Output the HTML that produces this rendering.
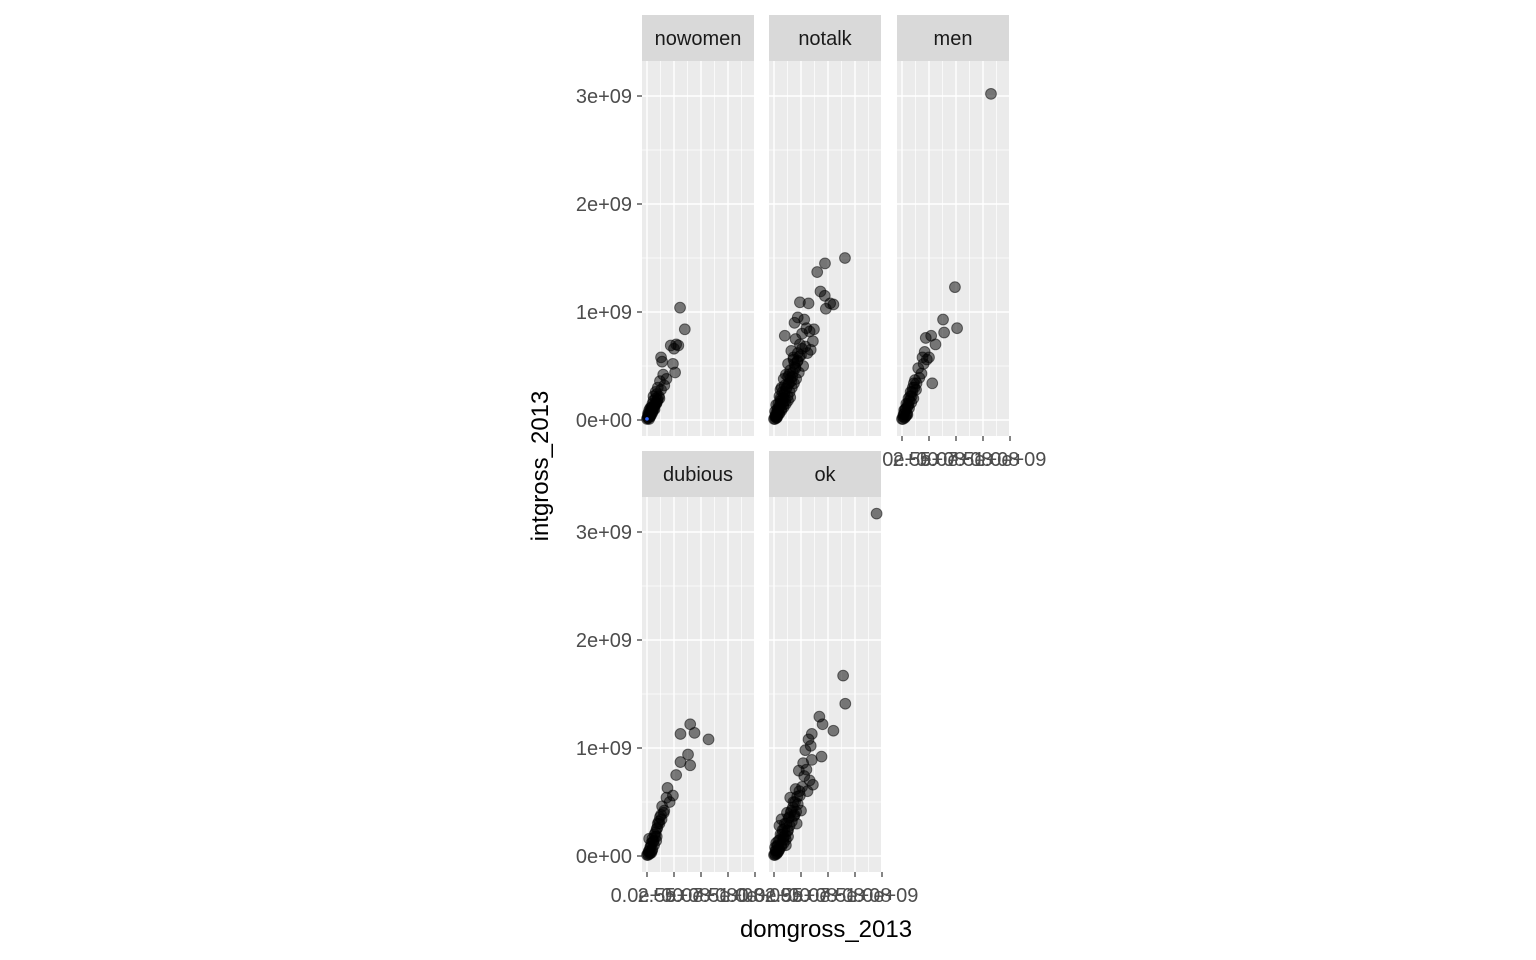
<!DOCTYPE html>
<html><head><meta charset="utf-8"><style>
html,body{margin:0;padding:0;background:#fff;}
svg{display:block;font-family:"Liberation Sans",sans-serif;}
</style></head><body>
<svg id="chart" width="1536" height="960" xmlns="http://www.w3.org/2000/svg">
<text x="826" y="937" font-size="24" text-anchor="middle" fill="#000">domgross_2013</text>
<text transform="translate(548,466) rotate(-90)" font-size="24" text-anchor="middle" fill="#000">intgross_2013</text>
</svg>
<script>
// values in units of 1e8
const xTicks=[0,2.5,5,7.5,10];
const xTickLabels=["0.0e+00","2.5e+08","5.0e+08","7.5e+08","1.0e+09"];
const yTicks=[0,10,20,30];
const yTickLabels=["0e+00","1e+09","2e+09","3e+09"];
const panelNames=["nowomen","notalk","men","dubious","ok"];
const nowomenX=[3.06,3.5,2.7,2.2,2.5,2.9,1.3,1.4,2.6,1.5,2.4,1.8,1.2,1.0,0.8,1.1,0.6,0.9,0.4,0.6,0.3,0.2,0.1,0.4,0.7,1.3,0.5,0.2,0.8,1.6,0.3,0.5,0.1,0.2,0.0,0.3,0.6,0.9,1.0,0.4,0.15,0.35,0.55,0.75,0.95,0.25,0.45,0.65,0.85,1.15,0.05,0.1,0.3,0.5,0.7];
const nowomenY=[10.4,8.4,7.0,6.9,6.6,6.9,5.8,5.4,4.4,4.2,5.2,3.8,3.6,3.0,2.6,2.2,1.8,1.6,1.2,1.0,0.8,0.4,0.2,0.5,1.3,2.8,1.5,0.9,2.0,3.2,0.3,0.7,0.6,0.1,0.1,1.1,2.2,2.4,1.9,0.9,0.5,0.6,1.0,1.5,1.8,0.3,1.1,1.3,1.5,2.0,0.2,0.4,0.5,0.8,1.0];
const notalkX=[6.57,4.72,4.0,4.3,4.7,5.2,5.5,4.8,2.4,3.2,2.2,2.8,1.9,3.0,2.6,3.7,3.3,1.0,3.6,2.0,2.4,2.9,3.1,1.6,1.8,2.2,2.5,1.3,1.5,1.1,0.9,2.0,1.7,1.4,0.7,0.8,1.2,0.5,0.6,0.4,0.3,0.2,0.1,0.0,0.5,0.9,1.0,0.3,0.2,1.6,2.7,2.3,1.9,0.6,0.4,1.3,0.8,0.1,0.2,3.4,0.15,0.35,0.55,0.75,0.95,1.15,1.35,1.55,1.75,1.95,2.15,2.35,0.25,0.45,0.65,0.85,1.05,1.25,1.45,1.65,1.85,2.05,0.1,0.3,0.5,0.7,0.9,1.1,1.3,1.5,0.6,1.0,1.4,1.8,2.2,2.6];
const notalkY=[15.0,14.5,13.7,11.9,11.5,10.8,10.7,10.3,10.9,10.8,9.5,9.3,9.0,8.5,8.0,8.4,8.2,7.8,7.3,7.5,7.0,6.8,6.2,6.4,5.8,5.5,6.0,5.2,4.6,4.2,3.8,4.8,4.0,3.4,3.0,2.6,3.1,2.2,1.8,1.5,1.0,0.6,0.3,0.1,1.2,2.0,2.6,0.5,1.4,3.6,5.0,4.4,5.2,2.8,0.8,4.0,1.6,0.8,0.2,6.5,0.4,0.9,1.4,1.9,2.4,2.9,3.4,3.9,4.4,4.9,5.4,5.9,0.2,0.6,1.0,1.4,1.8,2.2,2.6,3.0,3.4,3.8,0.1,0.3,0.6,0.9,1.2,1.5,1.8,2.1,2.0,3.2,4.2,5.6,6.2,6.6];
const menX=[8.24,4.9,5.1,3.8,3.9,2.7,2.2,3.1,2.1,1.9,2.5,2.8,1.8,1.2,1.5,1.0,0.8,0.6,0.4,0.3,0.2,0.1,0.0,0.9,1.3,0.5,0.7,1.1,0.2,0.4,1.6,0.6,0.15,0.35,0.55,0.75,0.95,1.15,1.35,0.25,0.45,0.65,0.85,1.05,0.1,0.3,0.5,2.0,2.3];
const menY=[30.2,12.3,8.5,9.3,8.1,7.8,7.6,7.0,6.3,5.8,5.8,3.4,4.3,3.7,4.8,3.0,2.6,2.0,1.5,1.0,0.6,0.3,0.1,2.2,2.8,1.2,1.8,3.4,0.9,0.4,3.9,1.4,0.5,1.0,1.5,2.2,2.6,3.0,3.4,0.2,0.6,1.1,1.6,2.0,0.1,0.3,0.5,5.2,5.6];
const dubiousX=[5.7,4.0,4.4,3.1,3.8,4.0,3.1,2.7,1.9,1.8,1.4,1.6,1.2,1.0,0.9,0.7,0.5,0.4,0.3,0.2,0.1,0.0,0.6,0.8,1.1,0.2,0.5,0.3,1.3,0.9,0.15,0.35,0.55,0.75,0.95,1.15,1.35,1.55,0.25,0.45,0.65,0.85,0.1,0.4,2.1,2.4];
const dubiousY=[10.8,12.2,11.4,11.3,9.4,8.4,8.7,7.5,6.3,5.4,4.6,4.2,3.6,3.0,2.5,2.0,1.6,1.2,0.8,0.5,0.2,0.1,1.4,2.2,3.2,1.6,0.6,0.3,3.8,1.8,0.4,0.9,1.3,1.8,2.6,3.0,3.4,4.0,0.2,0.5,1.0,1.4,0.1,0.3,5.0,5.6];
const okX=[9.5,6.4,6.6,5.5,4.2,4.5,3.5,3.4,3.5,4.4,2.3,3.3,3.6,3.0,2.8,2.6,2.4,2.0,2.2,1.8,1.6,1.4,1.2,1.0,0.8,0.6,0.4,0.3,0.2,0.1,0.0,1.5,1.9,2.5,0.5,0.9,1.3,0.2,0.7,1.1,3.1,2.1,0.4,0.1,0.15,0.35,0.55,0.75,0.95,1.15,1.35,1.55,1.75,1.95,2.15,2.35,0.25,0.45,0.65,0.85,1.05,1.25,1.45,1.65,1.85,2.05,0.1,0.3,0.5,0.7,0.9,1.1,1.3,2.7,2.9,3.2];
const okY=[31.7,16.7,14.1,11.6,12.9,12.2,11.3,10.2,8.9,9.2,7.9,7.0,6.6,8.0,7.4,6.4,5.6,6.2,4.8,5.0,4.2,3.6,4.0,3.0,2.4,2.0,1.4,0.9,0.5,0.2,0.1,5.4,3.8,4.2,2.8,1.8,2.4,1.2,3.4,1.0,6.0,3.0,0.4,0.8,0.5,1.0,1.5,2.0,2.5,3.0,3.5,4.0,4.5,5.0,5.5,6.0,0.2,0.6,1.0,1.5,1.9,2.3,2.8,3.2,3.7,4.1,0.1,0.3,0.6,0.9,1.2,1.5,1.8,8.6,9.8,10.8];
const panelX=[nowomenX,notalkX,menX,dubiousX,okX];
const panelY=[nowomenY,notalkY,menY,dubiousY,okY];

const NS="http://www.w3.org/2000/svg";
const svg=document.getElementById('chart');
function mk(t,a,p){const e=document.createElementNS(NS,t);for(const k in a)e.setAttribute(k,a[k]);(p||svg).appendChild(e);return e;}
const lefts=[642,769,897,642,769], tops=[61,61,61,497,497], W=112,H=375;
function xs(L,v){return L+5+v*10.8;}
function ys(T,v){return T+359-v*10.8;}
for(let p=0;p<5;p++){
  const L=lefts[p],T=tops[p];
  const g=mk('g',{});
  
  
  const bg=mk('rect',{x:L,y:T,width:W,height:H,fill:'#ebebeb'},g);
  
  
  [1.25,3.75,6.25,8.75].forEach(v=>mk('line',{x1:xs(L,v),x2:xs(L,v),y1:T,y2:T+H,stroke:'#fff','stroke-width':0.7},g));
  [-5,5,15,25].forEach(v=>mk('line',{x1:L,x2:L+W,y1:ys(T,v),y2:ys(T,v),stroke:'#fff','stroke-width':0.7},g));
  xTicks.forEach(v=>mk('line',{x1:xs(L,v),x2:xs(L,v),y1:T,y2:T+H,stroke:'#fff','stroke-width':1.4},g));
  yTicks.forEach(v=>mk('line',{x1:L,x2:L+W,y1:ys(T,v),y2:ys(T,v),stroke:'#fff','stroke-width':1.4},g));
  const st=mk('rect',{x:L,y:T-46,width:W,height:46,fill:'#d9d9d9'},g);
  
  
  const stx=mk('text',{x:L+W/2,y:T-16,'font-size':20,'text-anchor':'middle',fill:'#1a1a1a'},g);
  stx.textContent=panelNames[p];
  
  
  const cx=panelX[p],cy=panelY[p];
  for(let i=0;i<cx.length;i++){
    const c=mk('circle',{cx:xs(L,cx[i]),cy:ys(T,cy[i]),r:5.4,fill:'rgba(0,0,0,0.5)',stroke:'rgba(0,0,0,0.5)','stroke-width':1},g);
    
    
  }
  if(p===0){const b=mk('circle',{cx:xs(L,0),cy:ys(T,0.1),r:1.8,fill:'#3366ff'},g);
    
    }
  if(p===0||p===3){
    yTicks.forEach((v,i)=>{
      mk('line',{x1:L-5,x2:L,y1:ys(T,v),y2:ys(T,v),stroke:'#333','stroke-width':1.2});
      const t=mk('text',{x:L-10,y:ys(T,v)+7,'font-size':20,'text-anchor':'end',fill:'#4d4d4d'});
      t.textContent=yTickLabels[i];
      
      
    });
  }
  if(p>=2){
    xTicks.forEach((v,i)=>{
      mk('line',{x1:xs(L,v),x2:xs(L,v),y1:T+H,y2:T+H+5,stroke:'#333','stroke-width':1.2});
      const t=mk('text',{x:xs(L,v),y:T+H+30,'font-size':20,'text-anchor':'middle',fill:'#4d4d4d'});
      t.textContent=xTickLabels[i];
      
      
    });
  }
}
</script>
</body></html>
